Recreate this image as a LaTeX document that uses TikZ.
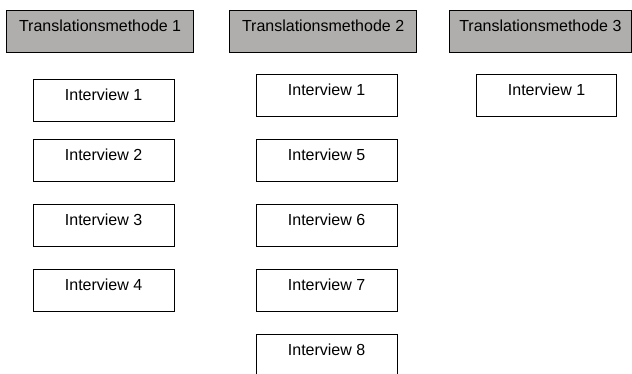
\documentclass[tikz,border=0pt]{standalone}
\usepackage{fontspec}
\setmainfont{Liberation Sans}
\definecolor{hdrgray}{RGB}{176,174,172}
\begin{document}
\begin{tikzpicture}[x=1pt,y=-1pt,
  box/.style={draw=black, line width=1.2pt, inner xsep=0pt, inner ysep=0pt,
    text height=21pt, text depth=21pt, anchor=north west,
    font=\fontsize{16}{19}\selectfont},
  hdr/.style={box, fill=hdrgray, minimum width=187pt},
  ivw/.style={box, fill=white, minimum width=141pt}]
\useasboundingbox (0,0) rectangle (632,374);
\clip (0,0) rectangle (632,374);
\node[hdr] (h1) at (6,10) {Translationsmethode 1};
\node[hdr] (h2) at (229,10) {Translationsmethode 2};
\node[hdr, minimum width=181.5pt] (h3) at (449,10) {Translationsmethode 3};
\node[ivw] (a1) at (32.5,79) {Interview 1};
\node[ivw] (a2) at (32.5,139) {Interview 2};
\node[ivw] (a3) at (32.5,204) {Interview 3};
\node[ivw] (a4) at (32.5,269) {Interview 4};
\node[ivw] (b1) at (255.5,74) {Interview 1};
\node[ivw] (b5) at (255.5,139) {Interview 5};
\node[ivw] (b6) at (255.5,204) {Interview 6};
\node[ivw] (b7) at (255.5,269) {Interview 7};
\node[ivw] (b8) at (255.5,334) {Interview 8};
\node[ivw, minimum width=140pt] (c1) at (476,74) {Interview 1};
\end{tikzpicture}
\end{document}
